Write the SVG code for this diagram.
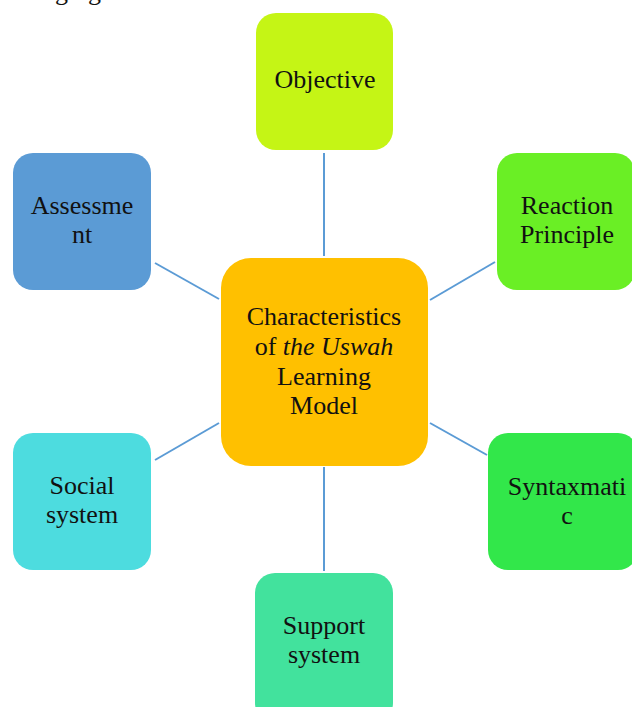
<svg xmlns="http://www.w3.org/2000/svg" width="632" height="707" viewBox="0 0 632 707">
<style>
text{font-family:"Liberation Serif","DejaVu Serif",serif;font-size:26px;fill:#111;text-anchor:middle}
.c{stroke:#5B9BD5;stroke-width:2;fill:none}
</style>
<rect width="632" height="707" fill="#fff"/>
<text x="78" y="0" style="font-size:26px">ging</text>
<g id="connectors">
<line class="c" x1="324" y1="153" x2="324" y2="256"/>
<line class="c" x1="430" y1="300" x2="495" y2="262"/>
<line class="c" x1="430" y1="423" x2="487" y2="455"/>
<line class="c" x1="324" y1="467" x2="324" y2="571"/>
<line class="c" x1="155" y1="460" x2="219" y2="423"/>
<line class="c" x1="155" y1="263" x2="219" y2="299"/>
</g>
<g id="center">
<rect x="221" y="258" width="207" height="208" rx="30" fill="#FFC000"/>
<text x="324" y="325">Characteristics</text>
<text x="324" y="355">of <tspan font-style="italic">the Uswah</tspan></text>
<text x="324" y="385">Learning</text>
<text x="324" y="414">Model</text>
</g>
<g id="objective">
<rect x="256" y="13" width="137" height="137" rx="20" fill="#C5F515"/>
<text x="325" y="88">Objective</text>
</g>
<g id="reaction">
<rect x="497" y="153" width="138" height="137" rx="20" fill="#6AEF25"/>
<text x="567" y="214">Reaction</text>
<text x="567" y="243">Principle</text>
</g>
<g id="syntaxmatic">
<rect x="488" y="433" width="150" height="137" rx="20" fill="#32E74A"/>
<text x="567" y="495">Syntaxmati</text>
<text x="567" y="524">c</text>
</g>
<g id="support">
<rect x="255" y="573" width="138" height="150" rx="20" fill="#42E29D"/>
<text x="324" y="634">Support</text>
<text x="324" y="663">system</text>
</g>
<g id="social">
<rect x="13" y="433" width="138" height="137" rx="20" fill="#4DDCDF"/>
<text x="82" y="494">Social</text>
<text x="82" y="523">system</text>
</g>
<g id="assessment">
<rect x="13" y="153" width="138" height="137" rx="20" fill="#5B9BD5"/>
<text x="82" y="214">Assessme</text>
<text x="82" y="243">nt</text>
</g>
</svg>
